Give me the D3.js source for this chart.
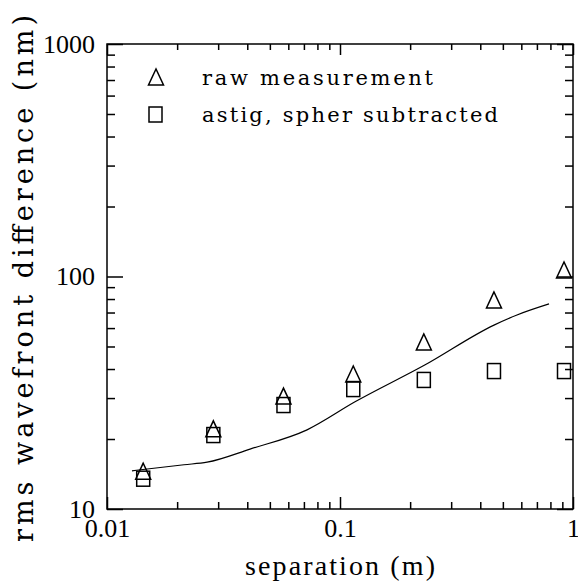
<!DOCTYPE html>
<html><head><meta charset="utf-8">
<script src="https://cdn.jsdelivr.net/npm/d3@7"></script>
<style>body{margin:0;background:#fff}svg{display:block}</style>
</head><body>
<script>
// separation (m)
const separation = [0.0143, 0.0286, 0.0572, 0.114, 0.229, 0.458, 0.915];
// raw measurement (nm)
const rawMeasurement = [14.4, 21.9, 30.3, 37.7, 51.8, 78.5, 105.6];
// astig, spher subtracted (nm)
const astigSpherSubtracted = [13.5, 20.8, 28.0, 32.8, 35.9, 39.2, 39.2];
// model curve
const curveX = [0.0128, 0.0214, 0.0269, 0.0411, 0.0722, 0.116, 0.231, 0.458, 0.575, 0.789];
const curveY = [14.6, 15.5, 15.9, 18.1, 21.9, 28.9, 41.6, 61.8, 68.3, 76.2];
const xTickLabels = ["0.01", "0.1", "1"];
const yTickLabels = ["10", "100", "1000"];
const legendLabels = ["raw measurement", "astig, spher subtracted"];

const W = 578, H = 587;
const L = 107, R = 573, T = 44, B = 509;
const svg = d3.select("body").append("svg").attr("width", W).attr("height", H);

const x = d3.scaleLog().domain([0.01, 1]).range([L, R]);
const y = d3.scaleLog().domain([10, 1000]).range([B, T]);

const xMajor = xTickLabels.map(Number);
const yMajor = yTickLabels.map(Number);
const xMinor = [], yMinor = [];
[0.01, 0.1].forEach(d => { for (let k = 2; k <= 9; k++) xMinor.push(d * k); });
[10, 100].forEach(d => { for (let k = 2; k <= 9; k++) yMinor.push(d * k); });

const tickFont = "'Liberation Serif', serif";
function styleAxis(g) {
  g.select(".domain").remove();
  g.selectAll("line").attr("stroke", "#000").attr("stroke-width", 1.5);
  g.selectAll("text").attr("font-family", tickFont).attr("font-size", 26).attr("fill", "#000");
}

// bottom
svg.append("g").attr("transform", `translate(0,${B})`)
  .call(d3.axisBottom(x).tickValues(xMinor).tickSize(-7).tickFormat("")).call(styleAxis);
svg.append("g").attr("transform", `translate(0,${B})`)
  .call(d3.axisBottom(x).tickValues(xMajor).tickSize(-12).tickPadding(10)
    .tickFormat((d, i) => xTickLabels[i])).call(styleAxis);
// top
svg.append("g").attr("transform", `translate(0,${T})`)
  .call(d3.axisTop(x).tickValues(xMinor).tickSize(-6).tickFormat("")).call(styleAxis);
svg.append("g").attr("transform", `translate(0,${T})`)
  .call(d3.axisTop(x).tickValues(xMajor).tickSize(-11).tickFormat("")).call(styleAxis);
// left
svg.append("g").attr("transform", `translate(${L},0)`)
  .call(d3.axisLeft(y).tickValues(yMinor).tickSize(-8).tickFormat("")).call(styleAxis);
svg.append("g").attr("transform", `translate(${L},0)`)
  .call(d3.axisLeft(y).tickValues(yMajor).tickSize(-16).tickPadding(12)
    .tickFormat((d, i) => yTickLabels[i])).call(styleAxis);
// right
svg.append("g").attr("transform", `translate(${R},0)`)
  .call(d3.axisRight(y).tickValues(yMinor).tickSize(-8).tickFormat("")).call(styleAxis);
svg.append("g").attr("transform", `translate(${R},0)`)
  .call(d3.axisRight(y).tickValues(yMajor).tickSize(-16).tickFormat("")).call(styleAxis);

// frame
svg.append("rect").attr("x", L).attr("y", T).attr("width", R - L).attr("height", B - T)
  .attr("fill", "none").attr("stroke", "#000").attr("stroke-width", 1.5);

// curve
const line = d3.line().x(d => x(d[0])).y(d => y(d[1])).curve(d3.curveMonotoneX);
svg.append("path").datum(curveX.map((v, i) => [v, curveY[i]]))
  .attr("d", line).attr("fill", "none").attr("stroke", "#000").attr("stroke-width", 1.2);

// markers
const triPath = "M0,-9L-7.5,7L7.5,7Z";
const sqW = 13, sqH = 15;
svg.append("g").selectAll("path").data(separation.map((v, i) => [v, rawMeasurement[i]]))
  .join("path").attr("d", triPath)
  .attr("transform", d => `translate(${x(d[0])},${y(d[1])})`)
  .attr("fill", "none").attr("stroke", "#000").attr("stroke-width", 1.5);
svg.append("g").selectAll("rect").data(separation.map((v, i) => [v, astigSpherSubtracted[i]]))
  .join("rect")
  .attr("x", d => x(d[0]) - sqW / 2).attr("y", d => y(d[1]) - sqH / 2)
  .attr("width", sqW).attr("height", sqH)
  .attr("fill", "none").attr("stroke", "#000").attr("stroke-width", 1.5);

// legend
const leg = svg.append("g");
leg.append("path").attr("d", triPath).attr("transform", "translate(156,78)")
  .attr("fill", "none").attr("stroke", "#000").attr("stroke-width", 1.5);
leg.append("rect").attr("x", 149).attr("y", 107).attr("width", 13).attr("height", 15)
  .attr("fill", "none").attr("stroke", "#000").attr("stroke-width", 1.5);
const legFont = "'DejaVu Serif', serif";
leg.append("text").attr("x", 202).attr("y", 85).attr("font-family", legFont).attr("font-size", 21)
  .attr("textLength", 231).attr("lengthAdjust", "spacing").text(legendLabels[0]);
leg.append("text").attr("x", 202).attr("y", 122).attr("font-family", legFont).attr("font-size", 21)
  .attr("textLength", 296).attr("lengthAdjust", "spacing").text(legendLabels[1]);

// axis titles
svg.append("text").attr("x", 245).attr("y", 575)
  .attr("font-family", "'Liberation Serif', serif").attr("font-size", 28)
  .attr("textLength", 190).attr("lengthAdjust", "spacing").text("separation (m)");
svg.append("text").attr("transform", "translate(33,542) rotate(-90)")
  .attr("font-family", "'DejaVu Serif', serif").attr("font-size", 27)
  .attr("textLength", 527).attr("lengthAdjust", "spacing").text("rms wavefront difference (nm)");
</script>
</body></html>
